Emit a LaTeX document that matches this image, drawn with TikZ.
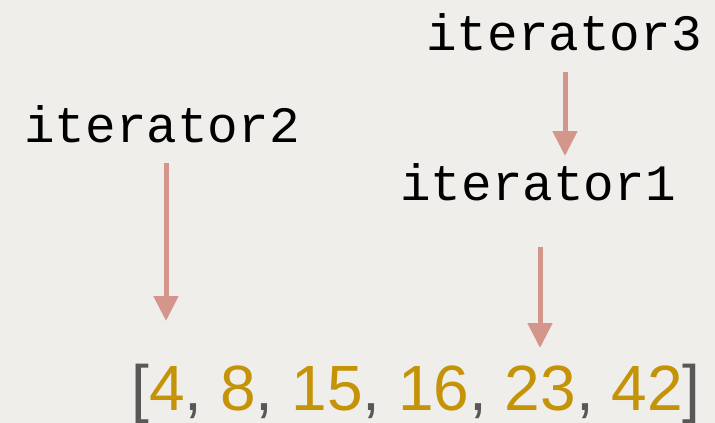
\documentclass[tikz,border=0pt]{standalone}
\usepackage{fontspec}
\setmainfont{Liberation Sans}
\setmonofont{Liberation Mono}
\usetikzlibrary{arrows.meta}
\definecolor{bg}{HTML}{EFEEEA}
\definecolor{arr}{HTML}{D4968A}
\definecolor{gold}{HTML}{C49308}
\definecolor{brk}{HTML}{5A5856}
\tikzset{
  itlabel/.style={anchor=base, inner sep=0pt, font=\fontsize{51}{51}\selectfont\ttfamily, text=black},
  ptr/.style={draw=arr, line width=5pt, -{Triangle[width=24pt,length=25pt]}},
}
\newcommand{\gd}[1]{\textcolor{gold}{#1}}
\begin{document}
\begin{tikzpicture}[x=1pt,y=-1pt]
\fill[bg] (0,0) rectangle (715,423);
\useasboundingbox (0,0) rectangle (715,423);
\node[itlabel] (it3) at (564,50) {iterator3};
\node[itlabel] (it2) at (162,142) {iterator2};
\node[itlabel] (it1) at (538,200) {iterator1};
\node[anchor=base, inner sep=0pt, text=brk, font=\fontsize{64}{64}\selectfont] (lst) at (416,410)
  {[\gd{4}, \gd{8}, \gd{15}, \gd{16}, \gd{23}, \gd{42}]};
\coordinate (a3s) at (565,72);
\coordinate (a3e) at (565,156);
\coordinate (a2s) at (166,163);
\coordinate (a2e) at (166,321);
\coordinate (a1s) at (540,247);
\coordinate (a1e) at (540,348);
\draw[ptr] (a3s) -- (a3e);
\draw[ptr] (a2s) -- (a2e);
\draw[ptr] (a1s) -- (a1e);
\end{tikzpicture}
\end{document}
